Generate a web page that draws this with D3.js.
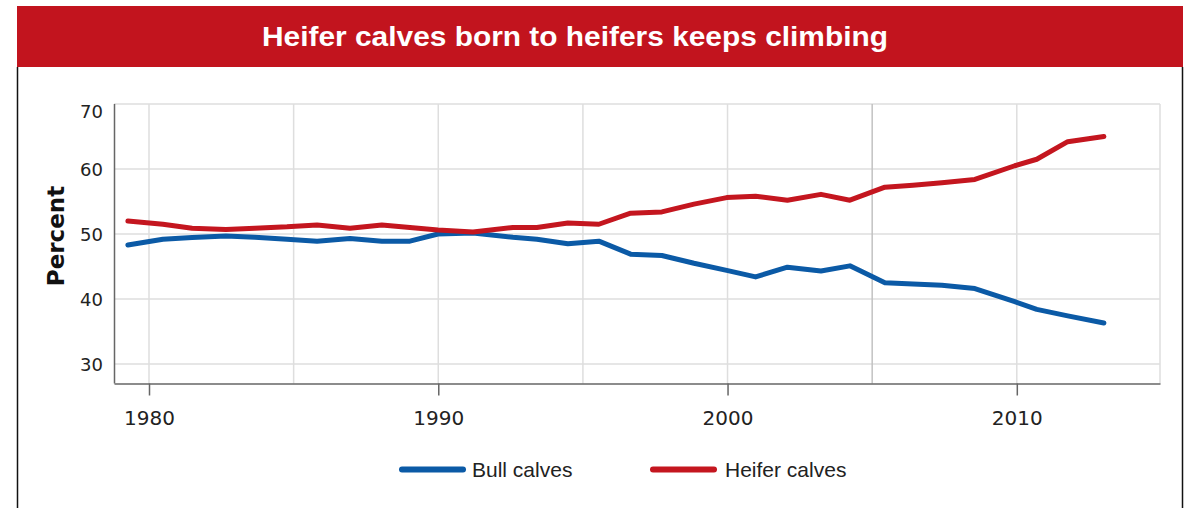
<!DOCTYPE html>
<html>
<head>
<meta charset="utf-8">
<script src="https://cdn.jsdelivr.net/npm/d3@7"></script>
<style>
  html, body { margin: 0; padding: 0; background: #fff; }
  svg { display: block; }
</style>
</head>
<body>
<svg id="chart" width="1188" height="508"></svg>
<script>
// ---- data ----
const titleText = "Heifer calves born to heifers keeps climbing";
const yAxisLabel = "Percent";
const years = [1979.27, 1980.48, 1981.49, 1982.66, 1983.66, 1984.77, 1985.81, 1986.95,
  1988.05, 1989.02, 1989.99, 1991.20, 1992.58, 1993.41, 1994.48, 1995.55, 1996.65,
  1997.73, 1998.84, 1999.97, 2000.97, 2002.07, 2003.23, 2004.23, 2005.44, 2006.41,
  2007.41, 2008.55, 2009.93, 2010.69, 2011.76, 2013.01];
const bullCalves = [48.3, 49.2, 49.45, 49.7, 49.5, 49.2, 48.9, 49.3, 48.9, 48.9, 50.0,
  50.15, 49.5, 49.2, 48.5, 48.9, 46.9, 46.7, 45.5, 44.4, 43.4, 44.9, 44.3, 45.1, 42.5,
  42.3, 42.1, 41.6, 39.6, 38.4, 37.4, 36.3];
const heiferCalves = [52.0, 51.5, 50.9, 50.7, 50.9, 51.1, 51.4, 50.9, 51.4, 51.0, 50.6,
  50.3, 51.0, 51.0, 51.7, 51.5, 53.2, 53.4, 54.6, 55.6, 55.8, 55.2, 56.1, 55.2, 57.2,
  57.5, 57.9, 58.4, 60.5, 61.5, 64.2, 65.0];
const seriesNames = ["Bull calves", "Heifer calves"];
const xTickValues = [1980, 1990, 2000, 2010];
const xGridValues = [1980, 1985, 1990, 1995, 2000, 2005, 2010];
const yTickValues = [30, 40, 50, 60, 70];

(function () {
// ---- styles ----
const RED = "#c2141e";
const BLUE = "#0b5aa6";
const LINE_RED = "#c4161f";

const svg = d3.select("#chart");

// frame + banner
svg.append("rect").attr("x", 17).attr("y", 6).attr("width", 1166).attr("height", 61).attr("fill", RED);
svg.append("line").attr("x1", 17.5).attr("x2", 17.5).attr("y1", 67).attr("y2", 508)
  .attr("stroke", "#111").attr("stroke-width", 1.5);
svg.append("line").attr("x1", 1182.5).attr("x2", 1182.5).attr("y1", 67).attr("y2", 508)
  .attr("stroke", "#111").attr("stroke-width", 1.5);

svg.append("text")
  .attr("x", 262).attr("y", 46)
  .attr("textLength", 626).attr("lengthAdjust", "spacingAndGlyphs")
  .attr("font-family", "'Liberation Sans Narrow', 'Liberation Sans', Arial, sans-serif")
  .attr("font-weight", "bold").attr("font-size", 27).attr("fill", "#fff")
  .text(titleText);

// scales
const pLeft = 114, pRight = 1160, pTop = 104, pBottom = 383.5;
const x = d3.scaleLinear().domain([1978.79, 2014.95]).range([pLeft, pRight]);
const y = d3.scaleLinear().domain([27, 70]).range([pBottom, pTop]);

// grid
const grid = svg.append("g");
grid.selectAll("line.h").data(yTickValues).join("line").attr("class", "h")
  .attr("x1", pLeft).attr("x2", pRight)
  .attr("y1", d => y(d)).attr("y2", d => y(d))
  .attr("stroke", "#dedede").attr("stroke-width", 1.5);
grid.selectAll("line.v").data(xGridValues).join("line").attr("class", "v")
  .attr("x1", d => x(d)).attr("x2", d => x(d))
  .attr("y1", pTop).attr("y2", pBottom)
  .attr("stroke", d => d === 2005 ? "#c2c2c2" : "#dedede").attr("stroke-width", 1.5);
grid.append("line").attr("x1", pRight).attr("x2", pRight).attr("y1", pTop).attr("y2", pBottom)
  .attr("stroke", "#dedede").attr("stroke-width", 1.5);

// x axis
const xAxis = svg.append("g").attr("transform", `translate(0,${pBottom})`)
  .call(d3.axisBottom(x).tickValues(xTickValues).tickSize(12).tickSizeOuter(0).tickPadding(16).tickFormat(d3.format("d")));
xAxis.select(".domain").attr("stroke", "#666").attr("stroke-width", 1.5);
xAxis.selectAll(".tick line").attr("stroke", "#666").attr("stroke-width", 1.5);
xAxis.selectAll(".tick text")
  .attr("font-family", "'DejaVu Sans', sans-serif").attr("font-size", 20).attr("fill", "#222")
  .attr("dy", null).attr("y", 41.5);

// y axis
const yAxis = svg.append("g").attr("transform", `translate(${pLeft},0)`)
  .call(d3.axisLeft(y).tickValues(yTickValues).tickSize(0).tickSizeOuter(0).tickPadding(11));
yAxis.select(".domain").attr("stroke", "#666").attr("stroke-width", 1.5)
  .attr("d", `M0.5,${pTop}V${pBottom}`);
yAxis.selectAll(".tick text")
  .attr("font-family", "'DejaVu Sans', sans-serif").attr("font-size", 18).attr("fill", "#222")
  .attr("dy", d => (y(d) - 6.6 < pTop) ? `${(pTop + 6.6 - y(d)) / 18 + 0.36}em` : "0.36em");

// y label
svg.append("text")
  .attr("transform", "translate(64,236) rotate(-90)")
  .attr("text-anchor", "middle")
  .attr("font-family", "'DejaVu Sans', sans-serif").attr("font-weight", "bold")
  .attr("font-size", 23).attr("fill", "#111")
  .text(yAxisLabel);

// lines
const line = d3.line().x(d => x(d[0])).y(d => y(d[1]));
const series = [
  { name: seriesNames[0], color: BLUE, values: years.map((yr, i) => [yr, bullCalves[i]]) },
  { name: seriesNames[1], color: LINE_RED, values: years.map((yr, i) => [yr, heiferCalves[i]]) }
];
svg.append("g").selectAll("path").data(series).join("path")
  .attr("d", d => line(d.values))
  .attr("fill", "none").attr("stroke", d => d.color)
  .attr("stroke-width", 5).attr("stroke-linejoin", "round").attr("stroke-linecap", "round");

// legend
const legendPos = [{ lx: 402, tx: 472 }, { lx: 653, tx: 725 }];
const legend = svg.append("g").selectAll("g").data(series).join("g");
legend.append("line")
  .attr("x1", (d, i) => legendPos[i].lx).attr("x2", (d, i) => legendPos[i].lx + 61)
  .attr("y1", 469.5).attr("y2", 469.5)
  .attr("stroke", d => d.color).attr("stroke-width", 6).attr("stroke-linecap", "round");
legend.append("text")
  .attr("x", (d, i) => legendPos[i].tx).attr("y", 477)
  .attr("font-family", "'Liberation Sans', Arial, sans-serif").attr("font-size", 21).attr("fill", "#222")
  .text(d => d.name);
})();
</script>
</body>
</html>
